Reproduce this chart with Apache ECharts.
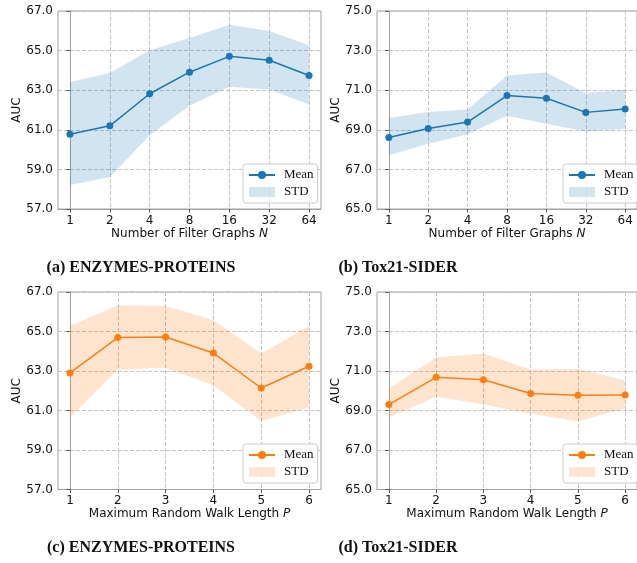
<!DOCTYPE html>
<html>
<head>
<meta charset="utf-8">
<script src="https://cdn.jsdelivr.net/npm/echarts@6/dist/echarts.min.js"></script>
<style>html,body{margin:0;padding:0;background:#fff;}#c{width:637px;height:563px;}</style>
</head>
<body>
<div id="c"></div>
<script>
// Tick labels
const xLabelsN = ['1', '2', '4', '8', '16', '32', '64'];
const xLabelsP = ['1', '2', '3', '4', '5', '6'];

// (a) ENZYMES-PROTEINS, number of filter graphs N
const meanA  = [60.78, 61.20, 62.82, 63.91, 64.71, 64.51, 63.74];
const upperA = [63.42, 63.87, 65.02, 65.64, 66.31, 65.99, 65.27];
const lowerA = [58.21, 58.60, 60.73, 62.21, 63.17, 63.03, 62.28];

// (b) Tox21-SIDER, number of filter graphs N
const meanB  = [68.61, 69.07, 69.39, 70.73, 70.59, 69.88, 70.05];
const upperB = [69.59, 69.90, 70.03, 71.74, 71.89, 70.86, 71.03];
const lowerB = [67.72, 68.29, 68.77, 69.71, 69.31, 68.92, 69.05];

// (c) ENZYMES-PROTEINS, maximum random walk length P
const meanC  = [62.90, 64.69, 64.72, 63.91, 62.14, 63.24];
const upperC = [65.28, 66.33, 66.29, 65.57, 63.88, 65.28];
const lowerC = [60.64, 63.07, 63.16, 62.28, 60.47, 61.15];

// (d) Tox21-SIDER, maximum random walk length P
const meanD  = [69.30, 70.68, 70.56, 69.86, 69.77, 69.79];
const upperD = [70.11, 71.68, 71.88, 71.07, 71.10, 70.53];
const lowerD = [68.64, 69.69, 69.32, 68.84, 68.46, 69.10];

const yRangeA = [57, 67];
const yRangeB = [65, 75];

const panels = [
  { id: 'a', labels: xLabelsN, mean: meanA, upper: upperA, lower: lowerA, yr: yRangeA,
    color: '#1a77b5', fill: 'rgba(31,119,180,0.2)', xname: 'Number of Filter Graphs {i|N}',
    grid: { left: 58, top: 11, width: 263, height: 198 }, legend: { left: 243, top: 164 },
    caption: '(a) ENZYMES-PROTEINS', cap: [141, 268] },
  { id: 'b', labels: xLabelsN, mean: meanB, upper: upperB, lower: lowerB, yr: yRangeB,
    color: '#1a77b5', fill: 'rgba(31,119,180,0.2)', xname: 'Number of Filter Graphs {i|N}',
    grid: { left: 377, top: 11, width: 264, height: 198 }, legend: { left: 563, top: 164 },
    caption: '(b) Tox21-SIDER', cap: [398, 268] },
  { id: 'c', labels: xLabelsP, mean: meanC, upper: upperC, lower: lowerC, yr: yRangeA,
    color: '#ff7f0e', fill: 'rgba(255,127,14,0.2)', xname: 'Maximum Random Walk Length {i|P}',
    grid: { left: 58, top: 292, width: 263, height: 197.5 }, legend: { left: 243, top: 444 },
    caption: '(c) ENZYMES-PROTEINS', cap: [141, 548] },
  { id: 'd', labels: xLabelsP, mean: meanD, upper: upperD, lower: lowerD, yr: yRangeB,
    color: '#ff7f0e', fill: 'rgba(255,127,14,0.2)', xname: 'Maximum Random Walk Length {i|P}',
    grid: { left: 377, top: 292, width: 264, height: 197.5 }, legend: { left: 563, top: 444 },
    caption: '(d) Tox21-SIDER', cap: [398, 548] }
];

const sans = 'DejaVu Sans';
const serif = 'Liberation Serif';
const spineColor = '#a0a0a0';
const gridColor = '#c4c4c4';

const option = { animation: false, backgroundColor: '#fff', grid: [], xAxis: [], yAxis: [], series: [], legend: [], graphic: [] };

panels.forEach((p, k) => {
  const n = p.labels.length;
  const pad = (n - 1) * 0.05;
  option.grid.push(Object.assign({ show: true, borderColor: spineColor, borderWidth: 1, backgroundColor: 'transparent' }, p.grid));
  const ticks = p.labels.map((_, i) => i);
  option.xAxis.push({
    type: 'value', gridIndex: k, min: -pad, max: n - 1 + pad,
    axisLine: { show: true, lineStyle: { color: spineColor, width: 1 } },
    axisTick: { show: true, length: 3.5, lineStyle: { color: '#555' }, customValues: ticks },
    axisLabel: { customValues: ticks, margin: 5.5, fontFamily: sans, fontSize: 12, color: '#111',
      formatter: v => p.labels[Math.round(v)] },
    splitLine: { show: true, lineStyle: { color: gridColor, type: [4, 2], width: 1 } },
    name: p.xname, nameLocation: 'middle', nameGap: 18,
    nameTextStyle: { fontFamily: sans, fontSize: 12, color: '#111',
      rich: { i: { fontFamily: sans, fontSize: 12, fontStyle: 'italic', color: '#111' } } }
  });
  option.yAxis.push({
    type: 'value', gridIndex: k, min: p.yr[0], max: p.yr[1], interval: 2,
    axisLine: { show: true, lineStyle: { color: spineColor, width: 1 } },
    axisTick: { show: true, length: 3.5, lineStyle: { color: '#555' } },
    axisLabel: { margin: 5, fontFamily: sans, fontSize: 12, color: '#111', formatter: v => v.toFixed(1) },
    splitLine: { show: true, lineStyle: { color: gridColor, type: [4, 2], width: 1 } },
    name: 'AUC', nameLocation: 'middle', nameGap: 35,
    nameTextStyle: { fontFamily: sans, fontSize: 12, color: '#111' }
  });
  const band = p.labels.map((_, i) => [i, p.lower[i], p.upper[i]]);
  option.series.push({
    type: 'custom', name: 'STD_' + p.id, xAxisIndex: k, yAxisIndex: k, z: 1,
    itemStyle: { color: p.fill },
    data: band,
    renderItem: (params, api) => {
      if (params.dataIndex !== 0) return { type: 'group', children: [] };
      const pts = [];
      for (let i = 0; i < n; i++) pts.push(api.coord([i, p.upper[i]]));
      for (let i = n - 1; i >= 0; i--) pts.push(api.coord([i, p.lower[i]]));
      return { type: 'polygon', shape: { points: pts }, style: { fill: p.fill }, silent: true };
    }
  });
  option.series.push({
    type: 'line', name: 'Mean_' + p.id, xAxisIndex: k, yAxisIndex: k, z: 3,
    data: p.mean.map((v, i) => [i, v]),
    symbol: 'circle', symbolSize: 7, showSymbol: true,
    lineStyle: { color: p.color, width: 1.5 }, itemStyle: { color: p.color }
  });
  option.legend.push({
    left: p.legend.left, top: p.legend.top, orient: 'vertical',
    data: [{ name: 'Mean_' + p.id }, { name: 'STD_' + p.id, icon: 'rect', itemStyle: { color: p.fill } }],
    formatter: nm => nm.split('_')[0],
    itemWidth: 26, itemHeight: 10, itemGap: 3,
    padding: [4, 4, 4, 5],
    backgroundColor: 'rgba(255,255,255,0.85)', borderColor: '#cccccc', borderWidth: 1, borderRadius: 3,
    textStyle: { fontFamily: serif, fontSize: 13, color: '#111', lineHeight: 14, padding: [0, 0, 0, 4] },
    selectedMode: false
  });
  option.graphic.push({
    type: 'text', x: p.cap[0], y: p.cap[1],
    style: { text: p.caption, font: 'bold 16px "Liberation Serif"', fill: '#111', align: 'center', verticalAlign: 'middle' }
  });
});

const chart = echarts.init(document.getElementById('c'), null, { renderer: 'canvas' });
chart.setOption(option);
</script>
</body>
</html>
